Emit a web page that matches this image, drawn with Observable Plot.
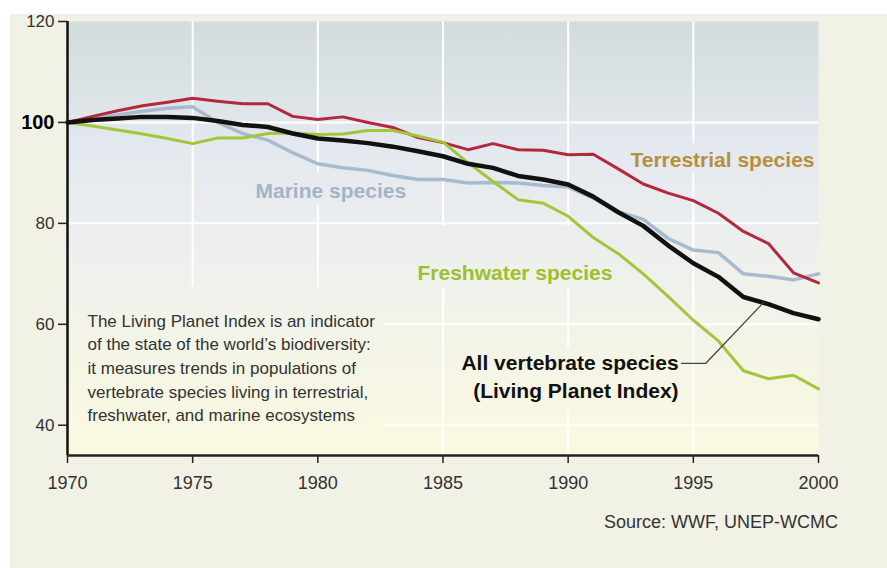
<!DOCTYPE html>
<html><head><meta charset="utf-8">
<script src="https://cdn.jsdelivr.net/npm/d3@7"></script>
<script src="https://cdn.jsdelivr.net/npm/@observablehq/plot@0.6"></script>
<style>
html,body{margin:0;padding:0;background:#fff;}
#wrap{position:relative;width:887px;height:568px;overflow:hidden;font-family:"Liberation Sans",Arial,sans-serif;}
#bgpanel{position:absolute;left:10px;top:14px;right:0;bottom:0;background:#f2f1e6;}
#chart{position:relative;}
#source{position:relative;text-align:right;padding-right:49px;margin-top:12px;font-size:18px;line-height:20px;color:#333;}
</style></head>
<body><div id="wrap"><div id="bgpanel"></div><div id="chart"></div><div id="source">Source: WWF, UNEP-WCMC</div></div>
<script>
const years = [1970,1971,1972,1973,1974,1975,1976,1977,1978,1979,1980,1981,1982,1983,1984,1985,1986,1987,1988,1989,1990,1991,1992,1993,1994,1995,1996,1997,1998,1999,2000];
const terrestrial = [100,101.2,102.3,103.3,104,104.8,104.2,103.7,103.7,101.2,100.6,101.1,100,99,97,96,94.6,95.8,94.6,94.5,93.6,93.7,90.8,87.8,86,84.5,82,78.4,76,70.2,68.2];
const marine = [100,100.8,101.5,102.2,102.8,103.1,100,97.8,96.5,94,91.8,91,90.5,89.5,88.7,88.7,88,88.1,88,87.5,87.2,85,82.3,80.8,77,74.7,74.2,70,69.5,68.8,70];
const freshwater = [100,99.3,98.5,97.7,96.8,95.8,96.9,96.9,97.8,97.9,97.6,97.7,98.4,98.4,97.3,96.1,92,88.3,84.7,84,81.4,77.2,74,70,65.5,60.8,56.7,50.8,49.2,49.9,47.2];
const allVertebrates = [100,100.5,100.8,101.1,101.1,100.9,100.3,99.5,99.1,97.8,96.8,96.4,95.9,95.2,94.3,93.3,91.8,91,89.4,88.7,87.7,85.3,82.2,79.5,75.6,72.1,69.4,65.4,64,62.2,61];

const xTicks = [1970,1975,1980,1985,1990,1995,2000];
const yTicks = [40,60,80,100,120];
const gridYears = [1975,1980,1985,1990,1995];
const gridValues = [40,60,80,100];

const description = "The Living Planet Index is an indicator\nof the state of the world\u2019s biodiversity:\nit measures trends in populations of\nvertebrate species living in terrestrial,\nfreshwater, and marine ecosystems";
const sourceText = "Source: WWF, UNEP-WCMC";

// annotation placements (data units)
const endLabels = [
  {x: 1999.84, y: 91.07, text: "Terrestrial species", color: "#b8903a"},
  {x: 1994.41, y: 45.3, text: "All vertebrate species\n(Living Planet Index)", color: "#111"}
];
const startLabels = [
  {x: 1977.51, y: 84.93, text: "Marine species", color: "#a3b4c6"},
  {x: 1983.98, y: 68.68, text: "Freshwater species", color: "#9cc030"}
];
const masks = [
  {x1: 1970, x2: 1982.7, y1: 34, y2: 67.3},
  {x1: 1977.3, x2: 1983.9, y1: 83.5, y2: 89.9},
  {x1: 1992.1, x2: 1999.9, y1: 90.1, y2: 95.8},
  {x1: 1983.7, x2: 1992.3, y1: 67.1, y2: 79.4},
  {x1: 1985.2, x2: 1994.9, y1: 42.9, y2: 55.2}
];
const connector = [
  {x: 1994.53, y: 52.24},
  {x: 1995.49, y: 52.24},
  {x: 1997.8, y: 64.3}
];

const rows = (vals) => years.map((year, i) => ({year, value: vals[i]}));
const labelStyle = {x: "x", y: "y", text: "text", fill: "color", lineAnchor: "bottom", fontWeight: "bold", fontSize: 21, lineHeight: 1.333};

const chart = Plot.plot({
  width: 887,
  height: 500,
  marginLeft: 67,
  marginRight: 69,
  marginTop: 21,
  marginBottom: 45,
  style: {background: "transparent", color: "#222", fontFamily: "Liberation Sans, Arial, sans-serif"},
  x: {domain: [1970, 2000]},
  y: {domain: [34, 120]},
  marks: [
    Plot.frame({fill: "url(#lpiBg)", stroke: "none"}),
    Plot.gridX(gridYears, {stroke: "white", strokeOpacity: 1, strokeWidth: 2}),
    Plot.gridY(gridValues, {stroke: "white", strokeOpacity: 1, strokeWidth: 2}),
    Plot.rect(masks, {x1: "x1", x2: "x2", y1: "y1", y2: "y2", fill: "url(#lpiBg)"}),
    Plot.line(rows(marine), {x: "year", y: "value", stroke: "#a8bacd", strokeWidth: 3.5, strokeLinejoin: "round"}),
    Plot.line(rows(terrestrial), {x: "year", y: "value", stroke: "#b3283c", strokeWidth: 3, strokeLinejoin: "round"}),
    Plot.line(rows(freshwater), {x: "year", y: "value", stroke: "#a3c63a", strokeWidth: 3, strokeLinejoin: "round"}),
    Plot.line(rows(allVertebrates), {x: "year", y: "value", stroke: "#111", strokeWidth: 4.5, strokeLinejoin: "round"}),
    Plot.line(connector, {x: "x", y: "y", stroke: "#444", strokeWidth: 1.3}),
    Plot.ruleX([1970], {stroke: "#111", strokeWidth: 2.5}),
    Plot.ruleY([34], {stroke: "#222", strokeWidth: 2.5}),
    Plot.text(endLabels, {...labelStyle, textAnchor: "end"}),
    Plot.text(startLabels, {...labelStyle, textAnchor: "start"}),
    Plot.text([description], {x: 1970.8, y: 40.74, text: (d) => d, textAnchor: "start", lineAnchor: "bottom", fontSize: 17, lineHeight: 1.397, fill: "#333"}),
    Plot.axisX(xTicks, {tickFormat: "d", tickSize: 8, tickPadding: 13, fontSize: 18, strokeWidth: 1.5, label: null, fill: "#333"}),
    Plot.axisY(yTicks, {tickSize: 9, tickPadding: 4, fontSize: 17, strokeWidth: 1.5, label: null, fill: "#333"})
  ]
});

const sel = d3.select(chart);
sel.insert("defs", ":first-child").html(
  '<linearGradient id="lpiBg" gradientUnits="userSpaceOnUse" x1="0" y1="21" x2="0" y2="455">' +
  '<stop offset="0" stop-color="#d3dcdc"/>' +
  '<stop offset="0.3" stop-color="#e4e9f0"/>' +
  '<stop offset="0.55" stop-color="#eef0ed"/>' +
  '<stop offset="1" stop-color="#fbf9e0"/>' +
  '</linearGradient>'
);
sel.selectAll("text").filter(function () { return this.textContent === "100"; })
  .attr("font-weight", "bold").attr("font-size", 20).attr("fill", "#000");

document.getElementById("chart").appendChild(chart);
document.getElementById("source").textContent = sourceText;
</script>
</body></html>
